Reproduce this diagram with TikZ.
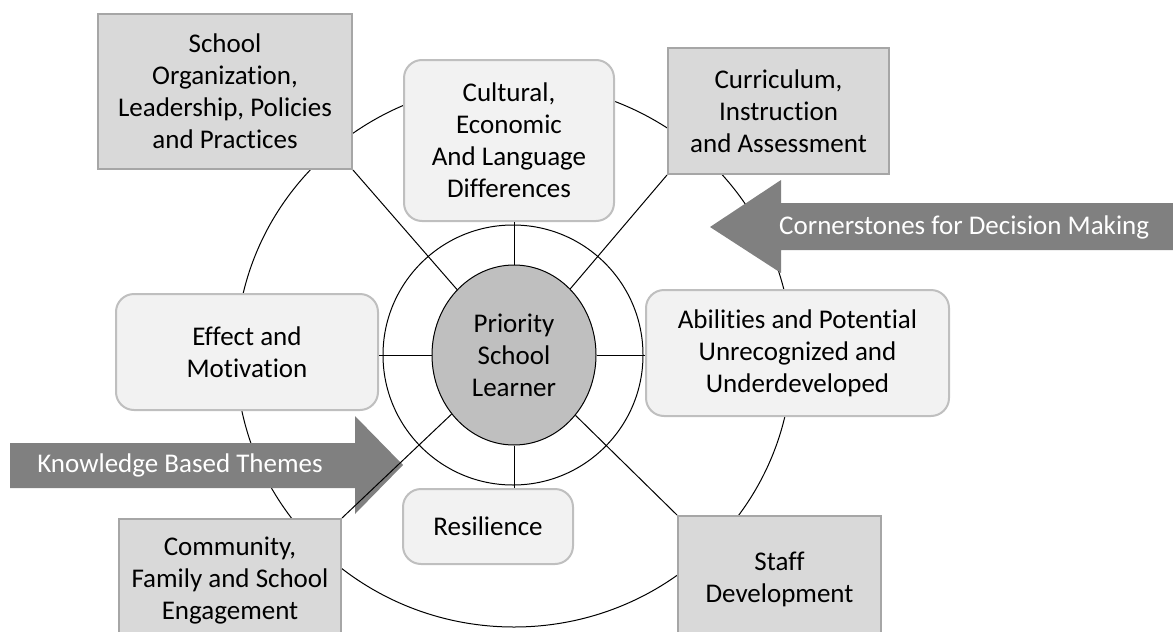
\documentclass[tikz,border=0pt]{standalone}
\usepackage{fontspec}
\setmainfont{Carlito}[Ligatures=NoCommon]
\usetikzlibrary{shapes.geometric}
\definecolor{boxgray}{HTML}{D9D9D9}
\definecolor{boxedge}{HTML}{A6A6A6}
\definecolor{softfill}{HTML}{F2F2F2}
\definecolor{softedge}{HTML}{BFBFBF}
\definecolor{hubfill}{HTML}{BFBFBF}
\definecolor{arrowgray}{HTML}{808080}
\begin{document}
\begin{tikzpicture}[x=1pt,y=-1pt,
  txt/.style={font=\fontsize{27}{32}\selectfont, align=center},
  squarebox/.style={txt, draw=boxedge, fill=boxgray, line width=2pt, inner sep=0pt, anchor=north west},
  softbox/.style={txt, draw=softedge, fill=softfill, line width=2pt, rounded corners=18pt, inner sep=0pt, anchor=north west},
  ring/.style={draw=black, line width=1pt},
  spoke/.style={draw=black, line width=1pt},
  band/.style={fill=arrowgray, draw=none},
  bandtext/.style={font=\fontsize{27}{32}\selectfont, text=white, inner sep=0pt}]
\useasboundingbox (0,0) rectangle (1173,632);
\clip (0,0) rectangle (1173,632);

% concentric rings around the learner
\draw[ring] (514,355) ellipse [x radius=278, y radius=272];
\draw[ring] (513,355) circle [radius=130];

% wide grey arrows
\fill[band] (10,443) -- (355,443) -- (355,416) -- (403,465) -- (355,514) -- (355,488) -- (10,488) -- cycle;
\fill[band] (1173,203) -- (781,203) -- (781,180) -- (710,227) -- (781,273) -- (781,250) -- (1173,250) -- cycle;

% outer cornerstones
\node[squarebox, minimum width=254pt, minimum height=155pt] (sch) at (97,13) {School\\Organization,\\Leadership, Policies\\and Practices};
\node[squarebox, minimum width=221pt, minimum height=126pt] (cur) at (667,47) {Curriculum,\\Instruction\\and Assessment};
\node[squarebox, minimum width=222pt, minimum height=124pt] (com) at (118,518) {Community,\\Family and School\\Engagement};
\node[squarebox, minimum width=203pt, minimum height=127pt] (stf) at (677,515) {Staff\\Development};

% knowledge themes
\node[softbox, minimum width=210pt, minimum height=161pt] (cul) at (403,59) {Cultural,\\Economic\\And Language\\Differences};
\node[softbox, minimum width=262pt, minimum height=116pt] (eff) at (115,293) {Effect and\\Motivation};
\node[softbox, minimum width=303pt, minimum height=126pt] (abl) at (645,289) {Abilities and Potential\\Unrecognized and\\Underdeveloped};
\node[softbox, minimum width=170pt, minimum height=75pt] (res) at (402,488) {Resilience};

% the learner at the centre
\node[ellipse, draw=black, fill=hubfill, line width=1pt, minimum width=164pt, minimum height=180pt, inner sep=0pt, txt] (hub) at (514,355) {Priority\\School\\Learner};

% spokes from the learner to every theme and cornerstone
\draw[spoke] (hub) -- (sch.south east);
\draw[spoke] (hub) -- (cur.south west);
\draw[spoke] (hub) -- (com.north east);
\draw[spoke] (hub) -- (stf.north west);
\draw[spoke] (hub.north) -- (hub.north |- cul.south);
\draw[spoke] (hub.south) -- (hub.south |- res.north);
\draw[spoke] (hub.west) -- (hub.west -| eff.east);
\draw[spoke] (hub.east) -- (hub.east -| abl.west);

% arrow captions
\node[bandtext] (kbt) at (180,465) {Knowledge Based Themes};
\node[bandtext, anchor=west] (cdm) at (779,227) {Cornerstones for Decision Making};
\end{tikzpicture}
\end{document}
